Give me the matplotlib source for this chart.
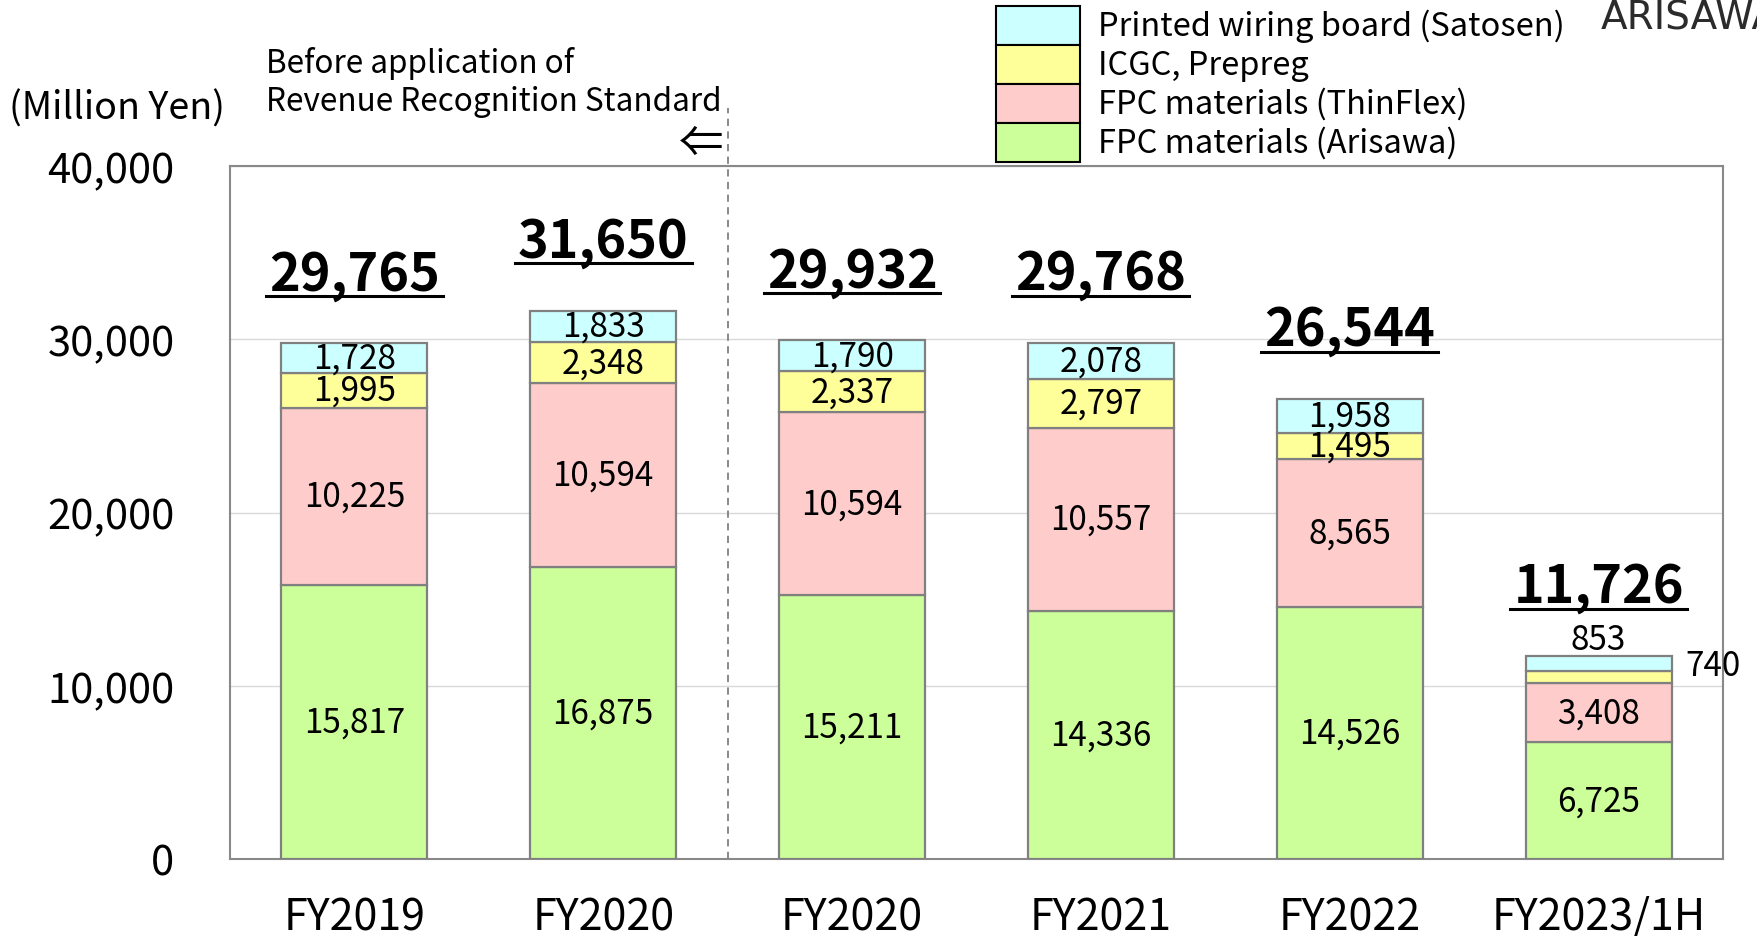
import matplotlib
matplotlib.use("Agg")
import matplotlib.pyplot as plt
from matplotlib.patches import Rectangle
from matplotlib.lines import Line2D
import numpy as np

# sales by segment (Million Yen)
periods = ["FY2019", "FY2020", "FY2020", "FY2021", "FY2022", "FY2023/1H"]
series_names = ["FPC materials (Arisawa)", "FPC materials (ThinFlex)",
                "ICGC, Prepreg", "Printed wiring board (Satosen)"]
fpc_arisawa = [15817, 16875, 15211, 14336, 14526, 6725]
fpc_thinflex = [10225, 10594, 10594, 10557, 8565, 3408]
icgc_prepreg = [1995, 2348, 2337, 2797, 1495, 740]
pwb_satosen = [1728, 1833, 1790, 2078, 1958, 853]
yticks = [0, 10000, 20000, 30000, 40000]

colors = ["#CCFF99", "#FFCCCC", "#FFFF99", "#CCFFFF"]
series = [fpc_arisawa, fpc_thinflex, icgc_prepreg, pwb_satosen]

plt.rcParams['font.family'] = ['Noto Sans CJK JP', 'DejaVu Sans']

W, H = 1758, 937
fig = plt.figure(figsize=(W / 100, H / 100), dpi=100)

def fx(px):
    return px / W

def fy(py):
    return 1 - py / H

ax = fig.add_axes([fx(230), fy(860), 1493 / W, 693 / H])

x = np.arange(len(periods))
bar_w = 0.587
bottom = np.zeros(len(periods))
for vals, c in zip(series, colors):
    vals = np.array(vals)
    ax.bar(x, vals, bar_w, bottom=bottom, color=c, edgecolor="#808080",
           linewidth=1.6, zorder=3)
    for i, v in enumerate(vals):
        if i == len(periods) - 1 and v < 1000:
            continue  # small 1H segments are labelled outside the bar
        ax.text(x[i], bottom[i] + v / 2, f"{v:,}", ha="center", va="center",
                fontsize=24, zorder=4)
    bottom += vals

# outside labels for the thin 1H segments
last = len(periods) - 1
ax.annotate(f"{pwb_satosen[last]:,}", (x[last], bottom[last]), xytext=(0, 12),
            textcoords="offset points", ha="center", va="center", fontsize=24)
y_icgc_top = fpc_arisawa[last] + fpc_thinflex[last] + icgc_prepreg[last]
ax.annotate(f"{icgc_prepreg[last]:,}", (x[last] + bar_w / 2, y_icgc_top),
            xytext=(10, 4), textcoords="offset points", ha="left", va="center",
            fontsize=24)

# totals, bold and underlined
totals = bottom.astype(int)
tot_texts = []
for i, tot in enumerate(totals):
    t = ax.annotate(f"{tot:,}", (x[i], tot), xytext=(0, 39),
                    textcoords="offset points", ha="center", va="baseline",
                    fontsize=37.5, fontweight="bold", zorder=5)
    tot_texts.append(t)

ax.set_xlim(-0.5, len(periods) - 0.5)
ax.set_ylim(0, 40000)
ax.set_yticks(yticks)
ax.set_yticklabels([f"{v:,}" for v in yticks], fontsize=30)
ax.set_xticks(x)
ax.set_xticklabels(periods, fontsize=31)
ax.tick_params(axis="both", length=0)
ax.tick_params(axis="y", pad=40)
ax.tick_params(axis="x", pad=26)
ax.yaxis.grid(True, color="#d9d9d9", linewidth=1)
ax.set_axisbelow(True)
for s in ax.spines.values():
    s.set_color("#898989")
    s.set_linewidth(1.5)

# boundary of revenue recognition standard
ax.axvline(1.5, ymin=0, ymax=(860 - 109) / 693, color="#808080",
           linestyle=(0, (4, 3)), linewidth=1.3, clip_on=False, zorder=2)

fig.text(fx(9), fy(109), "(Million Yen)", ha="left", va="center", fontsize=27)
fig.text(fx(266), fy(64), "Before application of", ha="left", va="center",
         fontsize=22.7)
fig.text(fx(266), fy(102), "Revenue Recognition Standard", ha="left",
         va="center", fontsize=22.7)
fig.text(fx(701), fy(144), "⇐", ha="center", va="center", fontsize=32)

# legend drawn by hand, top entry first
for k, idx in enumerate(reversed(range(len(series_names)))):
    top = 7 + 39 * k
    fig.add_artist(Rectangle((fx(996), fy(top + 39)), 84 / W, 39 / H,
                             facecolor=colors[idx], edgecolor="black",
                             linewidth=1.5, transform=fig.transFigure))
    fig.text(fx(1098), fy(top + 19.5), series_names[idx], ha="left",
             va="center", fontsize=23.5)

# company logo, runs off the right edge as in the slide
fig.text(fx(1601), fy(18), "ARISAWA", ha="left", va="center", fontsize=28,
         color="#2b2b2b", family=["DejaVu Sans"])

# underline the totals
fig.canvas.draw()
renderer = fig.canvas.get_renderer()
for i, t in enumerate(tot_texts):
    bb = t.get_window_extent(renderer)
    py = ax.transData.transform((x[i], totals[i]))[1] + 39 * 100 / 72 - 7
    fig.add_artist(Line2D([(bb.x0 - 3) / W, (bb.x1 + 3) / W],
                          [py / H, py / H], color="black", linewidth=2.2,
                          transform=fig.transFigure))

fig.savefig("out.png", dpi=100)
